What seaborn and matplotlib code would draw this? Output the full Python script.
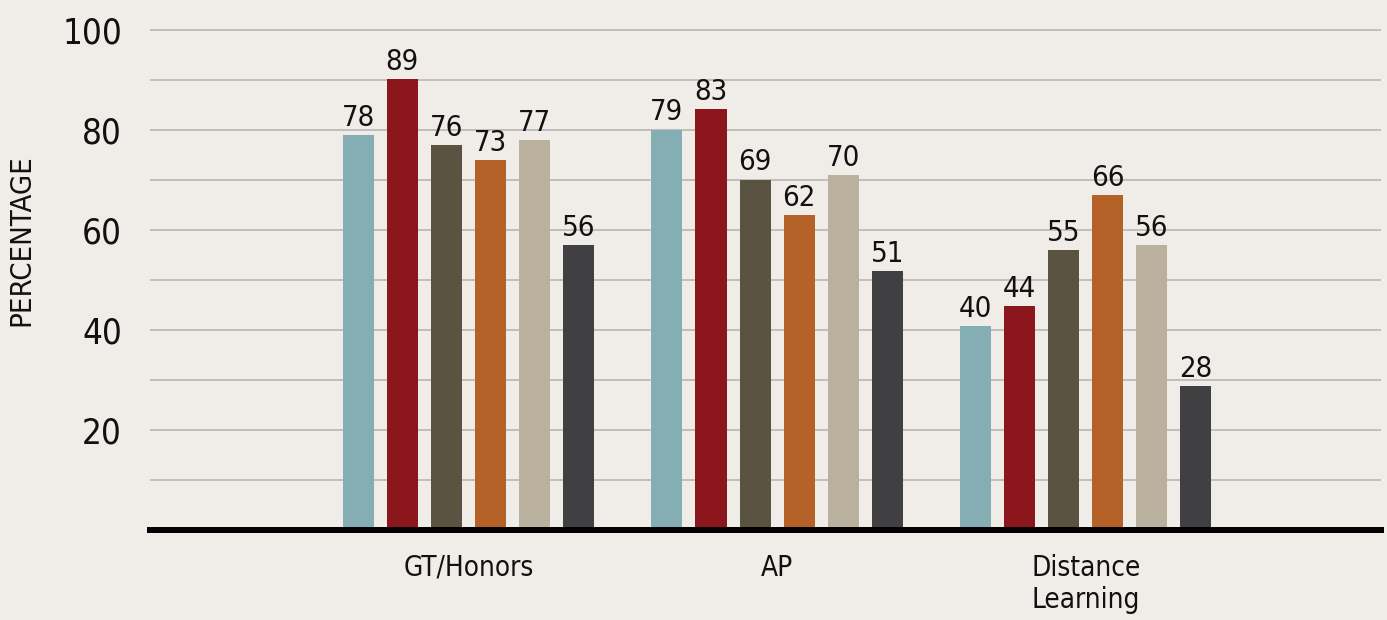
import matplotlib
matplotlib.use("Agg")
import matplotlib.pyplot as plt
import seaborn as sns
import pandas as pd

programs = ["GT/Honors", "AP", "Distance\nLearning"]
series = ["Series 1", "Series 2", "Series 3", "Series 4", "Series 5", "Series 6"]
colors = ["#84aeb3", "#8b171c", "#5a5342", "#b46227", "#b9b09e", "#404042"]

# bar heights (the printed labels are the rounded-down figures)
gt_honors = [79.0, 90.2, 77.0, 74.0, 78.0, 57.0]
ap = [80.1, 84.2, 70.1, 63.0, 71.0, 51.8]
distance = [40.8, 44.8, 56.0, 67.0, 57.0, 28.8]

gt_labels = [78, 89, 76, 73, 77, 56]
ap_labels = [79, 83, 69, 62, 70, 51]
distance_labels = [40, 44, 55, 66, 56, 28]

y_ticks = [20, 40, 60, 80, 100]
y_minor = [10, 30, 50, 70, 90]

rows = []
for prog, vals, labs in zip(programs, [gt_honors, ap, distance],
                            [gt_labels, ap_labels, distance_labels]):
    for s, v, l in zip(series, vals, labs):
        rows.append({"program": prog, "series": s, "value": v, "label": l})
df = pd.DataFrame(rows)

bg = "#f0ede8"
sns.set_style("white")
# condensed DejaVu is the closest thing to the original's narrow gothic face
plt.rcParams["font.family"] = ["DejaVu Sans"]
plt.rcParams["font.stretch"] = "condensed"
plt.rcParams["text.color"] = "#111111"

fig = plt.figure(figsize=(13.87, 6.2), dpi=100, facecolor=bg)
ax = fig.add_axes([0.108, 0.145, 0.888, 0.8226])
ax.set_facecolor(bg)

sns.barplot(data=df, x="program", y="value", hue="series", order=programs,
            hue_order=series, palette=colors, saturation=1, width=0.856,
            gap=0.295, legend=False, ax=ax, zorder=2, linewidth=0, edgecolor="none")

for i, cont in enumerate(ax.containers):
    sub = df[df["series"] == series[i]].set_index("program")
    for j, bar in enumerate(cont):
        ax.annotate(str(sub.loc[programs[j], "label"]),
                    (bar.get_x() + bar.get_width() / 2, bar.get_height()),
                    xytext=(0, 6.8), textcoords="offset points",
                    ha="center", va="baseline", fontsize=21, color="#111111")

ax.set_xlim(-1.032, 2.958)
ax.set_ylim(0, 102)
ax.set_yticks(y_ticks)
ax.set_yticks(y_minor, minor=True)
ax.grid(axis="y", which="both", color="#b5b2ac", lw=1.1)
ax.set_axisbelow(True)

ax.tick_params(axis="both", which="both", length=0)
ax.tick_params(axis="y", labelsize=25, pad=20, labelcolor="#111111")
ax.tick_params(axis="x", labelsize=20, pad=17, labelcolor="#111111")

for side in ["left", "top", "right"]:
    ax.spines[side].set_visible(False)
ax.spines["bottom"].set_color("black")
ax.spines["bottom"].set_linewidth(4.3)

ax.set_xlabel("")
ax.set_ylabel("PERCENTAGE", fontsize=21, va="center", ha="center", color="#111111")
ax.yaxis.set_label_coords(-0.104, 0.569)

# centre the two-line category label
fig.canvas.draw()
for tick in ax.xaxis.get_major_ticks():
    tick.label1.set_multialignment("center")

fig.savefig("out.png", dpi=100, facecolor=bg)
